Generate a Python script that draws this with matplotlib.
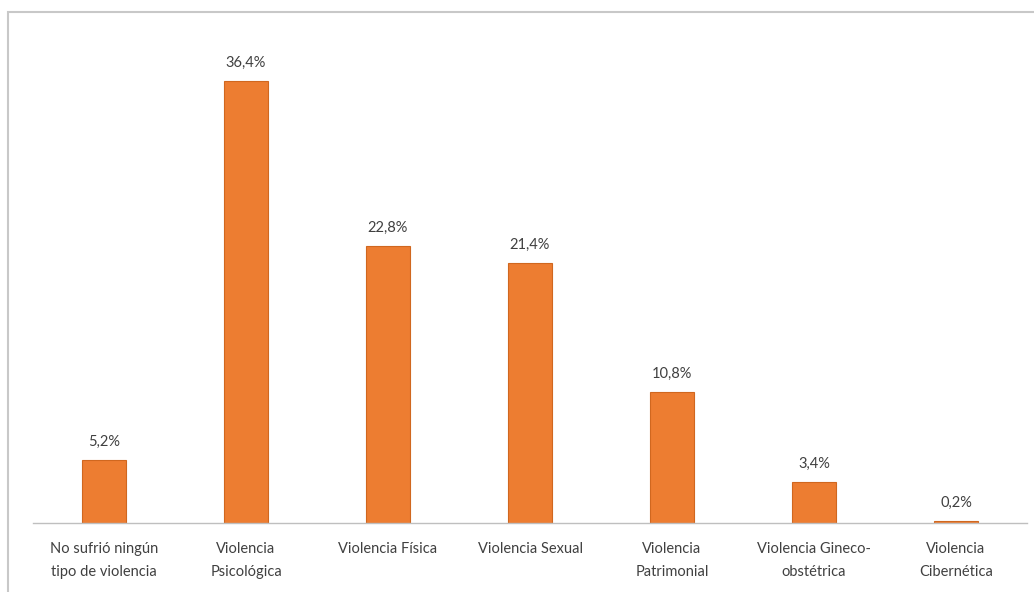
import matplotlib.pyplot as plt
from matplotlib.patches import Rectangle

# Tipos de violencia y porcentaje de mujeres
categorias = [
    "No sufrió ningún\ntipo de violencia",
    "Violencia\nPsicológica",
    "Violencia Física",
    "Violencia Sexual",
    "Violencia\nPatrimonial",
    "Violencia Gineco-\nobstétrica",
    "Violencia\nCibernética",
]
porcentajes = [5.2, 36.4, 22.8, 21.4, 10.8, 3.4, 0.2]

naranja = "#ED7D31"
texto = "#404040"
plt.rcParams["font.family"] = ["Lato", "DejaVu Sans"]

fig = plt.figure(figsize=(10.34, 5.92), dpi=100)
ax = fig.add_axes([33 / 1034, 69 / 592, 994 / 1034, 486 / 592])

# marco gris del gráfico
fig.patches.append(Rectangle((8 / 1034, -0.05), 1.1, 1.05 - 12 / 592,
                             transform=fig.transFigure, fill=False,
                             edgecolor="#c8c8c8", linewidth=1.5, zorder=0))

x = range(len(categorias))
bars = ax.bar(x, porcentajes, width=0.31, color=naranja, edgecolor="#d0671f", linewidth=0.8)

for b, v in zip(bars, porcentajes):
    ax.text(b.get_x() + b.get_width() / 2, v + 0.9, f"{v:.1f}%".replace(".", ","),
            ha="center", va="bottom", fontsize=10.5, color=texto)

ax.set_xlim(-0.5, len(categorias) - 0.5)
ax.set_ylim(0, 40)
ax.set_xticks(list(x))
ax.set_xticklabels(categorias, fontsize=10.5, color=texto, linespacing=1.75)
ax.tick_params(axis="x", length=0, pad=14)
ax.set_yticks([])
for s in ["top", "right", "left"]:
    ax.spines[s].set_visible(False)
ax.spines["bottom"].set_color("#bfbfbf")
ax.spines["bottom"].set_linewidth(1)

fig.savefig("out.png", dpi=100)
